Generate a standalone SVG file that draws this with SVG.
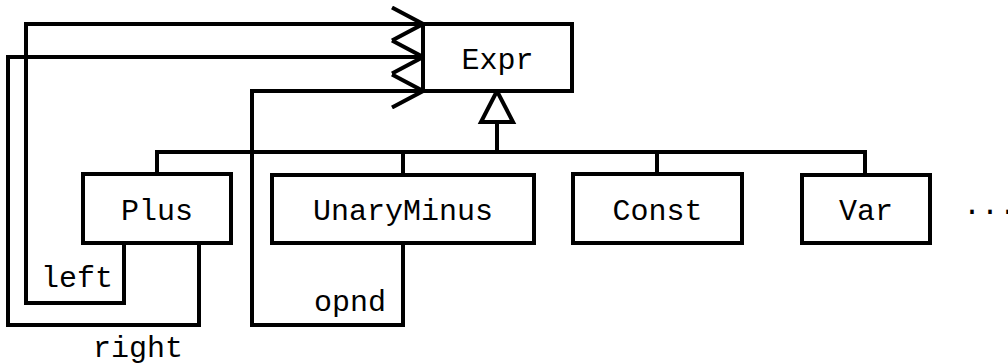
<svg xmlns="http://www.w3.org/2000/svg" width="1008" height="364" viewBox="0 0 1008 364">
<defs>
<style>
.box{fill:#fff;stroke:#000;stroke-width:4}
.ln{fill:none;stroke:#000;stroke-width:4;stroke-linejoin:miter}
.t{font-family:"Liberation Mono","Courier New",monospace;font-size:30px;fill:#000}
.c{text-anchor:middle}
</style>
<marker id="open" viewBox="-32 -18 36 36" refX="0" refY="0" markerWidth="36" markerHeight="36" markerUnits="userSpaceOnUse" orient="auto">
<path d="M-31,-16.5 L0,0 L-31,16.5" fill="none" stroke="#000" stroke-width="4"/>
</marker>
</defs>
<rect width="1008" height="364" fill="#fff"/>
<g id="connectors">
<path class="ln" d="M124,243 V303 H26 V24 H423" marker-end="url(#open)"/>
<path class="ln" d="M199,243 V325 H8 V57 H423" marker-end="url(#open)"/>
<path class="ln" d="M403,243 V325 H252 V91 H423" marker-end="url(#open)"/>
<path class="ln" d="M157,174 V152 H865 V175"/>
<path class="ln" d="M403,152 V175"/>
<path class="ln" d="M657,152 V174"/>
<path class="ln" d="M497,152 V122"/>
<path class="ln" d="M497,91 L481,122 H513 Z" style="fill:#fff"/>
<text class="t c" x="77" y="287">left</text>
<text class="t c" x="138" y="357">right</text>
<text class="t c" x="350" y="311">opnd</text>
</g>
<g id="Expr"><rect class="box" x="423" y="24" width="149" height="67"/><text class="t c" x="497.5" y="69">Expr</text></g>
<g id="Plus"><rect class="box" x="83" y="174" width="148" height="69"/><text class="t c" x="157" y="220">Plus</text></g>
<g id="UnaryMinus"><rect class="box" x="272" y="175" width="262" height="68"/><text class="t c" x="403" y="220">UnaryMinus</text></g>
<g id="Const"><rect class="box" x="573" y="174" width="169" height="69"/><text class="t c" x="657.5" y="220">Const</text></g>
<g id="Var"><rect class="box" x="802" y="175" width="128" height="68"/><text class="t c" x="866" y="220">Var</text></g>
<g id="more"><text class="t" x="963" y="220">···</text></g>
</svg>
